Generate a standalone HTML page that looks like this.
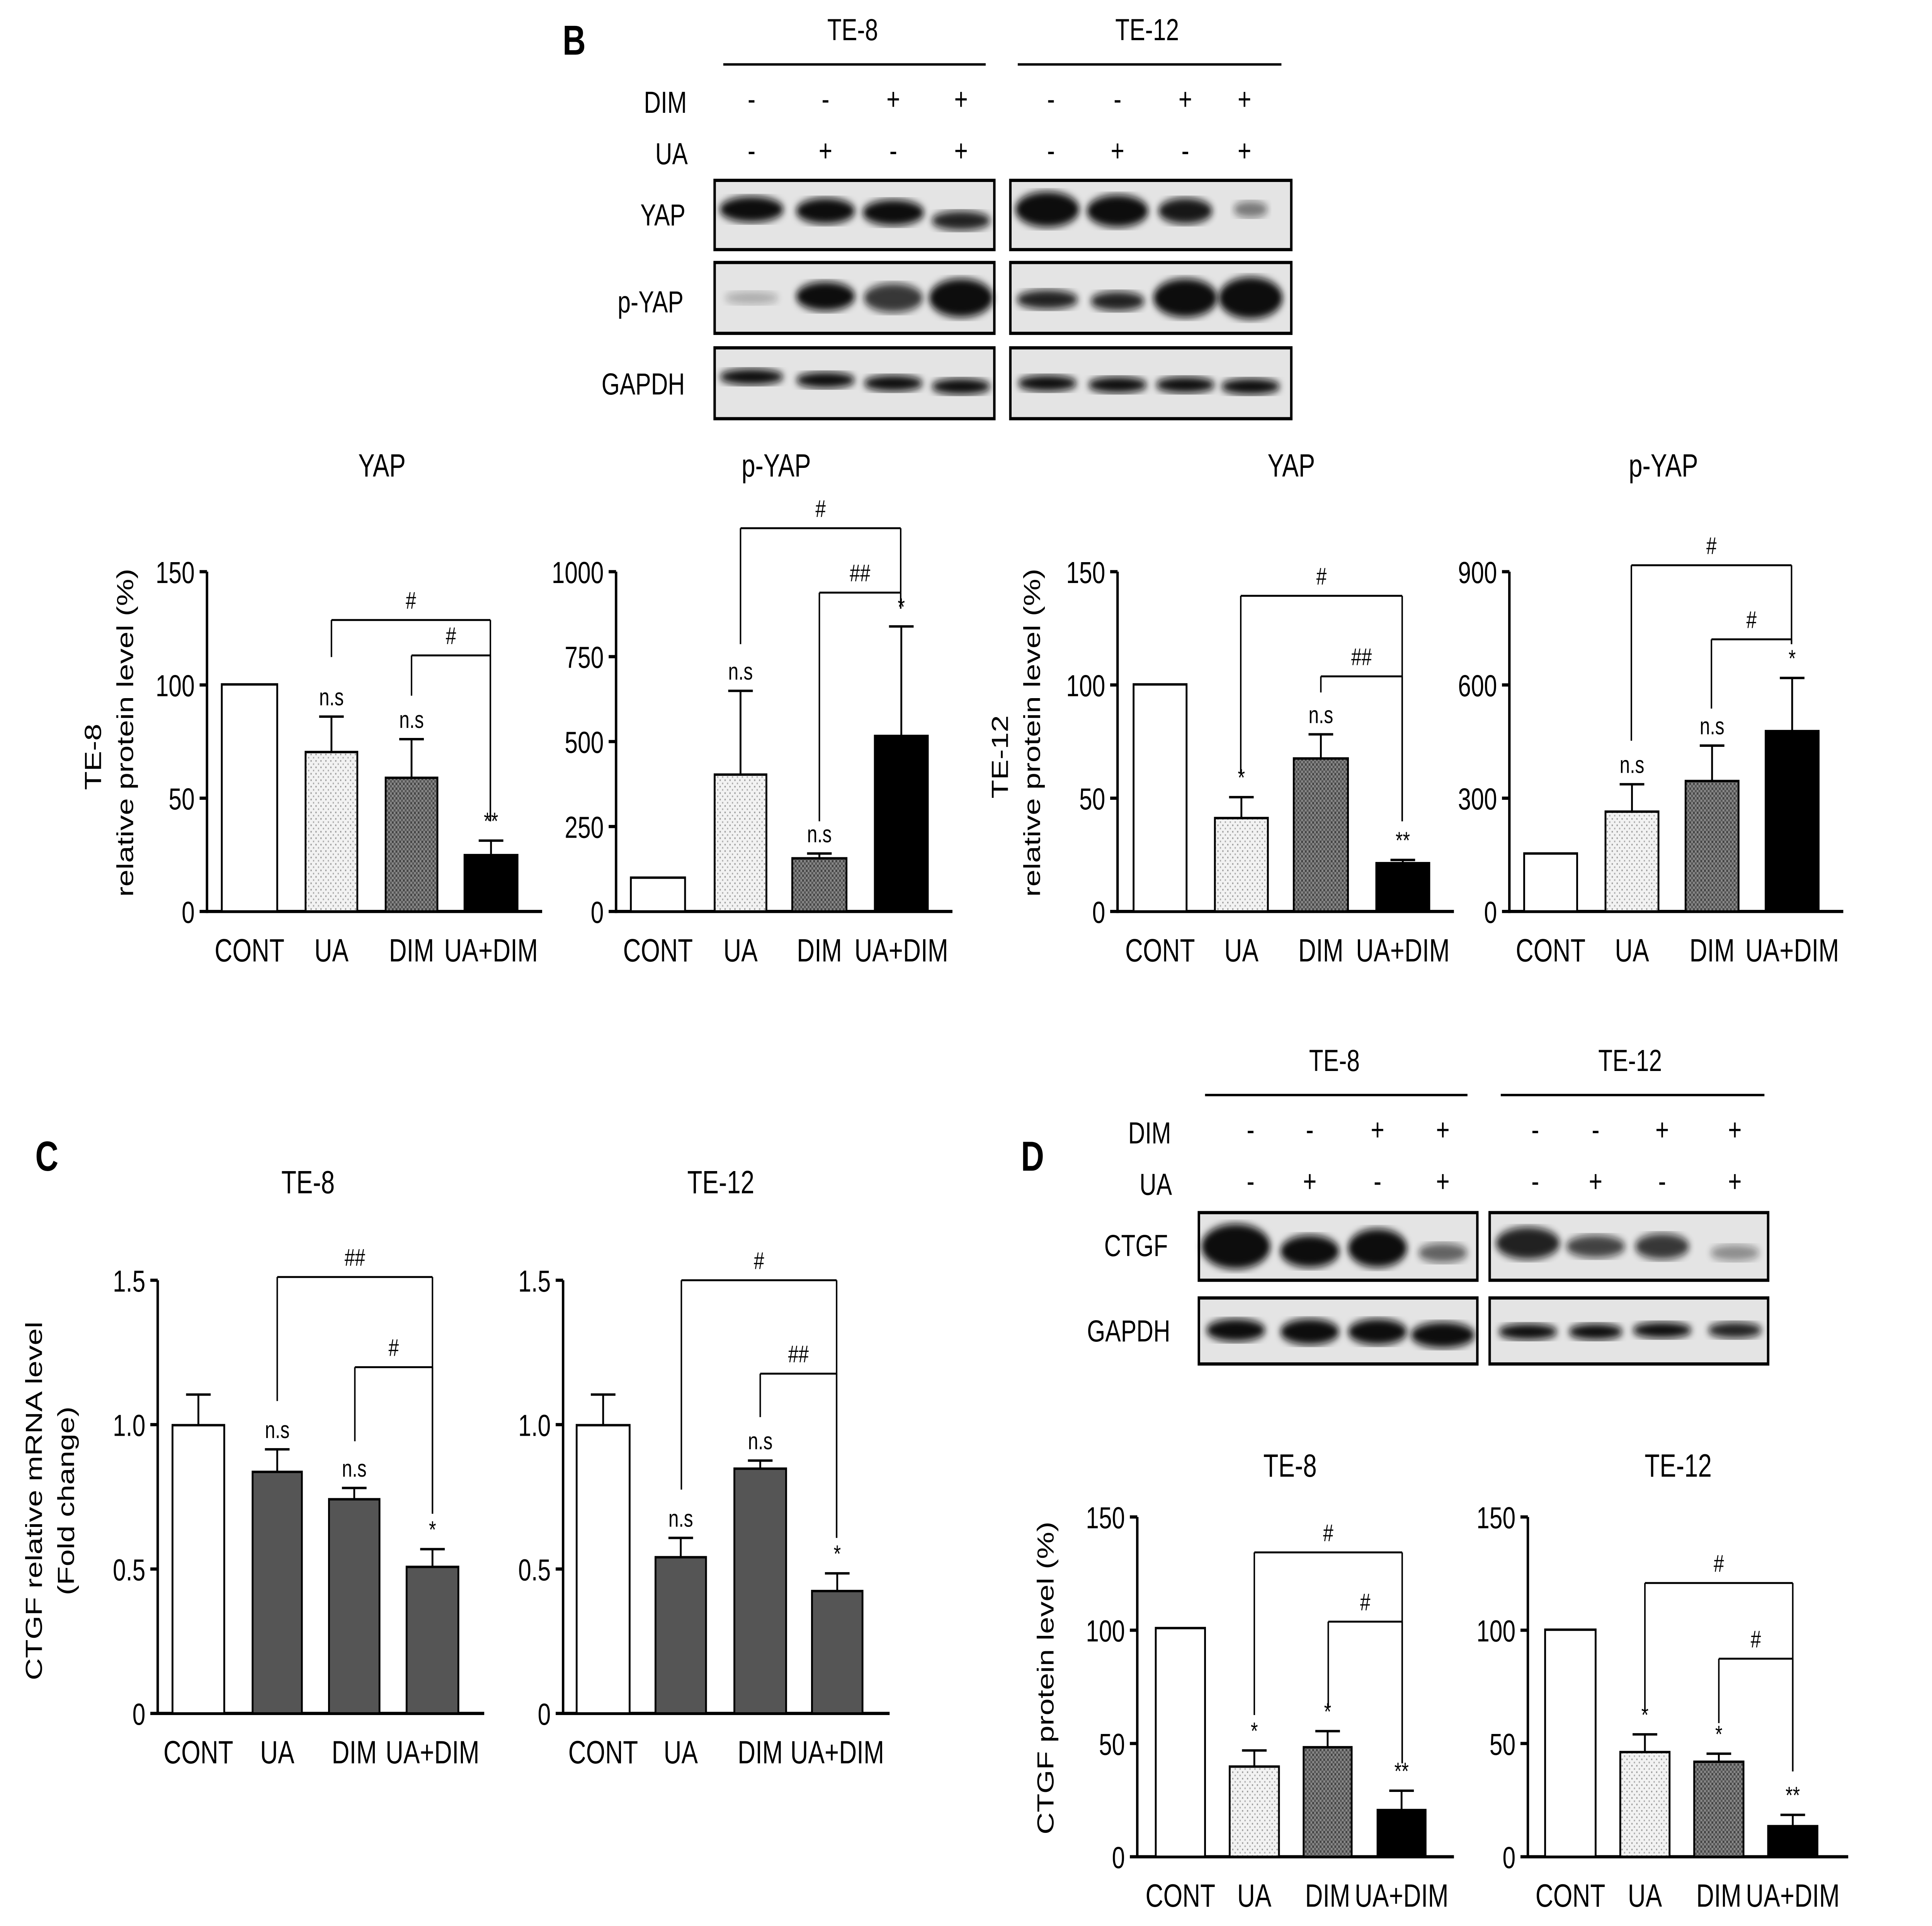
<!DOCTYPE html>
<html><head><meta charset="utf-8"><style>html,body{margin:0;padding:0;background:#fff;overflow:hidden;width:100%;height:100%}svg{display:block;position:fixed;left:0;top:0;width:100vw;height:100vh}</style></head><body>
<svg id="s" xmlns="http://www.w3.org/2000/svg" viewBox="0 0 1568 1196" preserveAspectRatio="none" font-family="Liberation Sans, sans-serif">
<defs>
<pattern id="dots" width="4" height="4" patternUnits="userSpaceOnUse"><rect width="4" height="4" fill="#f2f2f2"/><rect width="1" height="1" fill="#999"/><rect x="2" y="2" width="1" height="1" fill="#aaa"/></pattern>
<pattern id="hatch" width="3" height="3" patternUnits="userSpaceOnUse"><rect width="3" height="3" fill="#888"/><rect width="1.5" height="1.5" fill="#444"/><rect x="1.5" y="1.5" width="1.5" height="1.5" fill="#555"/></pattern>
<filter id="bl"><feGaussianBlur stdDeviation="2.5"/></filter>
</defs>
<rect width="1568" height="1196" fill="#fff"/>
<g id="g"></g>
</svg>
<script>
const g=document.getElementById('g');let h='';
function T(x,y,t,s,a,extra){h+=`<text x="${x}" y="${y}" font-size="${s||18}" text-anchor="${a||'middle'}" ${extra||''}>${t}</text>`;}
function L(x1,y1,x2,y2,w){h+=`<line x1="${x1}" y1="${y1}" x2="${x2}" y2="${y2}" stroke="#000" stroke-width="${w||1.5}"/>`;}
T(466,34,'B',26,'middle','font-weight="bold"');
T(692,25,'TE-8',19);L(587,40,800,40);T(931,25,'TE-12',19);L(826,40,1040,40);
T(540,70,'DIM',19);T(545,102,'UA',19);
const dB=['-','-','+','+'],uB=['-','+','-','+'];
[610,670,725,780,853,907,962,1010].forEach((x,i)=>{T(x,68,dB[i%4],19);T(x,100,uB[i%4],19);});
function blot(x1,x2,y1,y2,bands){h+=`<rect x="${x1}" y="${y1}" width="${x2-x1}" height="${y2-y1}" fill="#e4e4e4" stroke="#000" stroke-width="2"/>`;
 bands.forEach(b=>{h+=`<ellipse cx="${b[0]}" cy="${b[1]}" rx="${b[2]}" ry="${b[3]}" fill="#111" opacity="${b[4]}" filter="url(#bl)"/>`;});}
T(538,140,'YAP',19);T(528,194,'p-YAP',19);T(522,245,'GAPDH',19);
blot(580,807,112,155,[[610,130,26,8,1],[670,131,24,8,1],[725,132,25,8,1],[780,137,24,6,.9]]);
blot(820,1048,112,155,[[850,130,26,11,1],[907,131,25,10,1],[962,131,22,8,.95],[1015,130,14,5,.5]]);
blot(580,807,163,207,[[610,185,22,4,.25],[670,184,24,9,1],[725,185,24,9,.8],[780,185,26,12,1]]);
blot(820,1048,163,207,[[850,186,25,6,.9],[907,187,22,6,.9],[962,185,26,12,1],[1015,185,26,13,1]]);
blot(580,807,216,260,[[610,234,26,5,1],[670,236,24,5,1],[725,238,24,5,1],[780,240,24,5,1]]);
blot(820,1048,216,260,[[850,238,24,5,1],[907,239,24,5,1],[962,239,24,5,1],[1015,240,24,5,1]]);
T(838,727,'D',26,'middle','font-weight="bold"');
T(1083,665,'TE-8',19);L(978,680,1191,680);T(1323,665,'TE-12',19);L(1218,680,1432,680);
T(933,710,'DIM',19);T(938,742,'UA',19);
[1015,1063,1118,1171,1246,1295,1349,1408].forEach((x,i)=>{T(x,708,dB[i%4],19);T(x,740,uB[i%4],19);});
T(922,780,'CTGF',19);T(916,833,'GAPDH',19);
blot(973,1199,753,795,[[1003,774,28,14,1],[1063,777,24,10,1],[1118,775,24,12,1],[1171,778,20,6,.6]]);
blot(1209,1435,753,795,[[1240,772,26,10,.9],[1295,774,24,7,.75],[1349,774,22,8,.8],[1408,778,20,5,.4]]);
blot(973,1199,806,847,[[1003,826,24,7,1],[1063,827,24,8,1],[1118,827,24,8,1],[1171,829,26,8,1]]);
blot(1209,1435,806,847,[[1240,827,24,5,1],[1295,827,22,5,1],[1349,826,24,5,1],[1408,826,22,5,.9]]);
function chart(o){const{ax,y0,y1,ticks,tlab,xend,bars,br,xl,title,tx}=o;
 T(tx,o.ty,title,20);
 L(ax,y0,ax,y1+1,2);L(ax,y1,xend,y1,2);
 ticks.forEach((t,i)=>{const y=y1-(y1-y0)*i/(ticks.length-1);L(ax-6,y,ax,y,2);T(ax-10,y+7,tlab[i],19,'end');});
 bars.forEach((b,i)=>{h+=`<rect x="${b[0]}" y="${b[2]}" width="${b[1]-b[0]}" height="${y1-b[2]}" fill="${b[4]}" stroke="#000" stroke-width="1.5"/>`;
  const cx=(b[0]+b[1])/2;if(b[3]!=null){L(cx,b[2],cx,b[3],1.5);L(cx-10,b[3],cx+10,b[3],1.5);}
  if(b[5])T(cx,(b[3]!=null?b[3]:b[2])-7,b[5],15);
  T(cx,y1+31,xl[i],20);});
 br.forEach(r=>{L(r[0],r[2],r[1],r[2],1.2);L(r[0],r[2],r[0],r[3],1.2);L(r[1],r[2],r[1],r[4],1.2);T((r[0]+r[1])/2,r[2]-7,r[5],15);});
}
const XL=['CONT','UA','DIM','UA+DIM'];
chart({ax:168,y0:355,y1:566,ticks:[0,1,2,3],tlab:['0','50','100','150'],xend:440,xl:XL,title:'YAP',tx:310,ty:296,
 bars:[[180,225,425,null,'#fff'],[248,290,467,445,'url(#dots)','n.s'],[313,355,483,459,'url(#hatch)','n.s'],[377,420,531,522,'#000','**']],
 br:[[269,398,385,408,510,'#'],[334,398,407,432,510,'#']]});
T(0,0,'TE-8',19,'middle','transform="translate(82,470) rotate(-90)"');
T(0,0,'relative protein level (%)',19,'middle','transform="translate(108,455) rotate(-90)"');
chart({ax:500,y0:355,y1:566,ticks:[0,1,2,3,4],tlab:['0','250','500','750','1000'],xend:773,xl:XL,title:'p-YAP',tx:630,ty:296,
 bars:[[512,556,545,null,'#fff'],[580,622,481,429,'url(#dots)','n.s'],[643,687,533,530,'url(#hatch)','n.s'],[710,753,457,389,'#000','*']],
 br:[[601,731,328,400,368,'#'],[665,731,368,510,378,'##']]});
chart({ax:907,y0:355,y1:566,ticks:[0,1,2,3],tlab:['0','50','100','150'],xend:1180,xl:XL,title:'YAP',tx:1048,ty:296,
 bars:[[920,963,425,null,'#fff'],[986,1029,508,495,'url(#dots)','*'],[1050,1094,471,456,'url(#hatch)','n.s'],[1117,1160,536,534,'#000','**']],
 br:[[1007,1138,370,480,510,'#'],[1072,1138,420,430,510,'##']]});
T(0,0,'TE-12',19,'middle','transform="translate(818,470) rotate(-90)"');
T(0,0,'relative protein level (%)',19,'middle','transform="translate(844,455) rotate(-90)"');
chart({ax:1225,y0:355,y1:566,ticks:[0,1,2,3],tlab:['0','300','600','900'],xend:1496,xl:XL,title:'p-YAP',tx:1350,ty:296,
 bars:[[1237,1280,530,null,'#fff'],[1303,1346,504,487,'url(#dots)','n.s'],[1368,1411,485,463,'url(#hatch)','n.s'],[1433,1476,454,421,'#000','*']],
 br:[[1324,1454,351,460,400,'#'],[1389,1454,397,440,400,'#']]});
T(38,727,'C',26,'middle','font-weight="bold"');
T(0,0,'CTGF relative mRNA level',19,'middle','transform="translate(34,932) rotate(-90)"');
T(0,0,'(Fold change)',19,'middle','transform="translate(60,932) rotate(-90)"');
chart({ax:128,y0:795,y1:1064,ticks:[0,1,2,3],tlab:['0','0.5','1.0','1.5'],xend:393,xl:XL,title:'TE-8',tx:250,ty:741,
 bars:[[140,182,885,866,'#fff'],[205,245,914,900,'#555','n.s'],[267,308,931,924,'#555','n.s'],[330,372,973,962,'#555','*']],
 br:[[225,351,793,870,940,'##'],[288,351,849,895,940,'#']]});
chart({ax:457,y0:795,y1:1064,ticks:[0,1,2,3],tlab:['0','0.5','1.0','1.5'],xend:722,xl:XL,title:'TE-12',tx:585,ty:741,
 bars:[[468,511,885,866,'#fff'],[532,573,967,955,'#555','n.s'],[596,638,912,907,'#555','n.s'],[659,700,988,977,'#555','*']],
 br:[[553,679,795,925,955,'#'],[617,679,853,880,955,'##']]});
T(0,0,'CTGF protein level (%)',19,'middle','transform="translate(855,1042) rotate(-90)"');
chart({ax:923,y0:942,y1:1153,ticks:[0,1,2,3],tlab:['0','50','100','150'],xend:1180,xl:XL,title:'TE-8',tx:1047,ty:917,
 bars:[[938,978,1011,null,'#fff'],[998,1038,1097,1087,'url(#dots)','*'],[1058,1097,1085,1075,'url(#hatch)','*'],[1118,1157,1124,1112,'#000','**']],
 br:[[1018,1138,964,1065,1095,'#'],[1078,1138,1007,1060,1095,'#']]});
chart({ax:1240,y0:942,y1:1153,ticks:[0,1,2,3],tlab:['0','50','100','150'],xend:1500,xl:XL,title:'TE-12',tx:1362,ty:917,
 bars:[[1254,1295,1012,null,'#fff'],[1315,1355,1088,1077,'url(#dots)','*'],[1375,1415,1094,1089,'url(#hatch)','*'],[1435,1475,1134,1127,'#000','**']],
 br:[[1335,1455,983,1062,1100,'#'],[1395,1455,1030,1070,1100,'#']]});
g.innerHTML=h;
</script>
</body></html>
